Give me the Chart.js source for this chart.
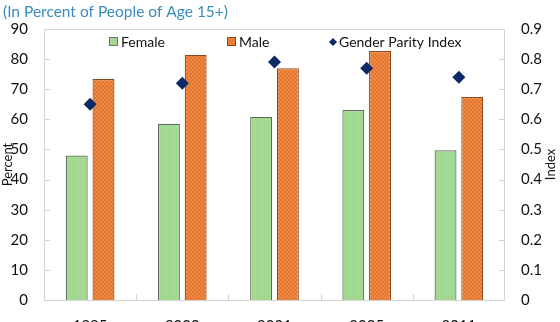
<!DOCTYPE html>
<html>
<head>
<meta charset="utf-8">
<script src="https://cdn.jsdelivr.net/npm/chart.js@4"></script>
<style>
  html, body { margin: 0; padding: 0; background: #fff; overflow: hidden; }
  #wrap { width: 560px; height: 340px; }
</style>
</head>
<body>
<div id="wrap"><canvas id="c" width="560" height="340"></canvas></div>
<script>
// Labour force participation by year
const years = ['1995', '2000', '2001', '2005', '2011'];
const female = [48.0, 58.5, 60.8, 63.1, 49.7];
const male = [73.4, 81.4, 77.0, 82.7, 67.4];
const parityIndex = [0.65, 0.72, 0.79, 0.77, 0.74];
const percentTicks = [0, 10, 20, 30, 40, 50, 60, 70, 80, 90];
const indexTicks = [0, 0.1, 0.2, 0.3, 0.4, 0.5, 0.6, 0.7, 0.8, 0.9];

const FONT = 'Lato, "Open Sans", sans-serif';

function makePattern(base, accent, kind) {
  const p = document.createElement('canvas');
  p.width = 4; p.height = 4;
  const g = p.getContext('2d');
  g.fillStyle = base;
  g.fillRect(0, 0, 4, 4);
  g.fillStyle = accent;
  if (kind === 'dots') {
    g.fillRect(0, 0, 1, 1); g.fillRect(2, 2, 1, 1);
    g.fillRect(2, 0, 1, 1); g.fillRect(0, 2, 1, 1);
  } else {
    for (let i = 0; i < 4; i++) g.fillRect((i + 1) % 4, i, 1, 1);
    for (let i = 0; i < 4; i++) g.fillRect((4 - i) % 4, i, 1, 1);
  }
  return document.createElement('canvas').getContext('2d').createPattern(p, 'repeat');
}

const femaleFill = makePattern('#a9dc98', '#93cd82', 'dots');
const maleFill = makePattern('#ef8a44', '#e27631', 'hatch');

// Title, right axis caption, frame, inner tick marks and the in-plot legend
const decorations = {
  id: 'decorations',
  afterDraw(chart) {
    const ctx = chart.ctx;
    const a = chart.chartArea;
    const y = chart.scales.y, y1 = chart.scales.y1, x = chart.scales.x;
    ctx.save();
    ctx.fillStyle = '#3a8cbd';
    ctx.font = '15.5px ' + FONT;
    ctx.textBaseline = 'middle';
    ctx.textAlign = 'left';
    ctx.fillText('(In Percent of People of Age 15+)', 3, 12);

    // right axis caption, reading bottom to top
    ctx.save();
    ctx.translate(551, (a.top + a.bottom) / 2);
    ctx.rotate(-Math.PI / 2);
    ctx.textAlign = 'center';
    ctx.fillStyle = '#111';
    ctx.font = '13px ' + FONT;
    ctx.fillText('Index', 0, 0);
    ctx.restore();

    ctx.strokeStyle = '#d4d4d4';
    ctx.lineWidth = 1;
    ctx.strokeRect(Math.round(a.left) + 0.5, Math.round(a.top) + 0.5,
      Math.round(a.right - a.left) - 1, Math.round(a.bottom - a.top));

    ctx.beginPath();
    percentTicks.forEach(v => {
      const py = Math.round(y.getPixelForValue(v)) + 0.5;
      ctx.moveTo(a.left, py); ctx.lineTo(a.left + 6, py);
    });
    indexTicks.forEach(v => {
      const py = Math.round(y1.getPixelForValue(v)) + 0.5;
      ctx.moveTo(a.right - 6, py); ctx.lineTo(a.right, py);
    });
    for (let i = 1; i < years.length; i++) {
      const px = Math.round((x.getPixelForValue(i - 1) + x.getPixelForValue(i)) / 2) + 0.5;
      ctx.moveTo(px, a.bottom); ctx.lineTo(px, a.bottom - 6);
    }
    ctx.stroke();

    // legend
    const ly = 42;
    ctx.font = '14px ' + FONT;
    ctx.fillStyle = '#111';
    const items = [
      { x: 109, text: 'Female', fill: femaleFill, border: '#6b7a66' },
      { x: 227, text: 'Male', fill: maleFill, border: '#8a4a1e' }
    ];
    items.forEach(it => {
      ctx.fillStyle = it.fill;
      ctx.fillRect(it.x, ly - 5, 9, 9);
      ctx.strokeStyle = it.border;
      ctx.strokeRect(it.x + 0.5, ly - 4.5, 8, 8);
      ctx.fillStyle = '#111';
      ctx.fillText(it.text, it.x + 12, ly);
    });
    ctx.fillStyle = '#0c2b66';
    ctx.beginPath();
    ctx.moveTo(333, ly - 4); ctx.lineTo(337, ly); ctx.lineTo(333, ly + 4); ctx.lineTo(329, ly);
    ctx.closePath(); ctx.fill();
    ctx.fillStyle = '#111';
    ctx.fillText('Gender Parity Index', 339, ly);
    ctx.restore();
  }
};

new Chart(document.getElementById('c'), {
  data: {
    labels: years,
    datasets: [
      {
        type: 'scatter', label: 'Gender Parity Index', data: parityIndex,
        yAxisID: 'y1', pointStyle: 'rectRot', pointRadius: 6.5,
        backgroundColor: '#0c2b66', borderColor: '#0c2b66', borderWidth: 0,
        showLine: false, order: 0
      },
      {
        type: 'bar', label: 'Female', data: female, yAxisID: 'y',
        backgroundColor: femaleFill, borderColor: '#5f6b5a', borderWidth: 1.2,
        barPercentage: 0.82, categoryPercentage: 0.58, order: 1
      },
      {
        type: 'bar', label: 'Male', data: male, yAxisID: 'y',
        backgroundColor: maleFill, borderColor: '#8a4a1e', borderWidth: 1.2,
        barPercentage: 0.82, categoryPercentage: 0.58, order: 1
      }
    ]
  },
  options: {
    responsive: false,
    animation: false,
    layout: { padding: { top: 29, left: 0, right: 0, bottom: 0 } },
    plugins: { legend: { display: false }, tooltip: { enabled: false } },
    scales: {
      x: {
        type: 'category',
        grid: { display: false, drawTicks: false },
        border: { display: false },
        ticks: { padding: 17, color: '#111', font: { family: FONT, size: 15 } },
        afterFit(s) { s.height = 40; }
      },
      y: {
        position: 'left', min: 0, max: 90,
        afterBuildTicks(s) { s.ticks = percentTicks.map(v => ({ value: v })); },
        grid: { display: false, drawTicks: false },
        border: { display: true, color: '#c4c4c4' },
        ticks: { padding: 16, color: '#111', font: { family: FONT, size: 15 } },
        title: { display: true, text: 'Percent', color: '#111', padding: 0,
          font: { family: FONT, size: 13 } },
        afterFit(s) { s.width = 44; }
      },
      y1: {
        position: 'right', min: 0, max: 0.9,
        afterBuildTicks(s) { s.ticks = indexTicks.map(v => ({ value: v })); },
        grid: { display: false, drawTicks: false },
        border: { display: false },
        ticks: { padding: 16, color: '#111', font: { family: FONT, size: 15 },
          callback: v => String(Math.round(v * 10) / 10) },
        afterFit(s) { s.width = 55; }
      }
    }
  },
  plugins: [decorations]
});
</script>
</body>
</html>
